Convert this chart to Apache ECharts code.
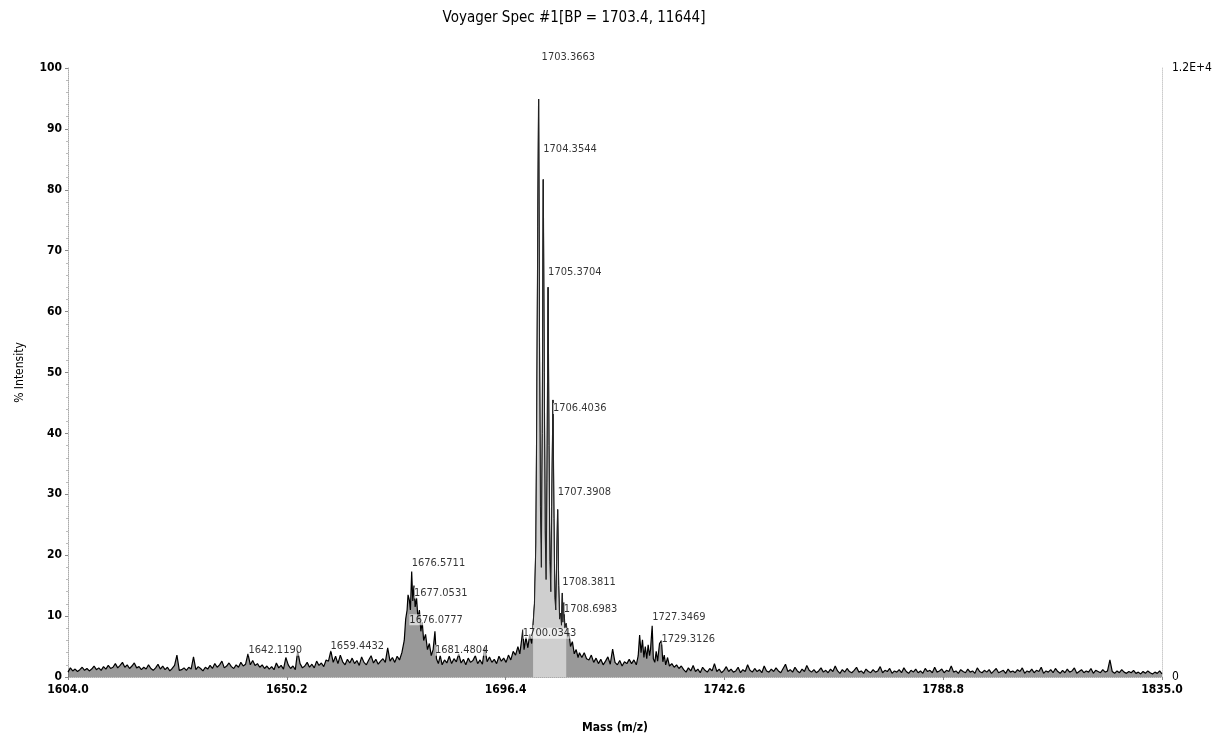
<!DOCTYPE html>
<html>
<head>
<meta charset="utf-8">
<script src="https://cdn.jsdelivr.net/npm/echarts@6/dist/echarts.min.js"></script>
<style>
html,body{margin:0;padding:0;background:#fff;}
#chart{width:1221px;height:739px;}
</style>
</head>
<body>
<div id="chart"></div>
<script>
// ---------- DATA ----------
const titleText = 'Voyager Spec #1[BP = 1703.4, 11644]';
const xTicks = [1604.0, 1650.2, 1696.4, 1742.6, 1788.8, 1835.0];
const rightTopLabel = '1.2E+4';

// baseline noise (% intensity), read every 0.5 Da starting at 1604.0
const noiseStart = 1604.0;
const noiseStep = 0.5;
const noise = [
  0.8,1.5,1.0,1.3,0.9,1.2,1.6,1.1,1.4,1.0,1.3,1.8,1.2,1.5,1.1,1.7,1.3,1.9,1.4,1.6,
  2.2,1.5,1.9,2.4,1.6,2.0,1.4,1.8,2.3,1.5,1.7,1.2,1.6,1.3,2.0,1.4,1.1,1.5,2.1,1.3,
  1.8,1.2,1.6,1.0,1.4,1.9,3.6,1.1,1.2,1.5,1.1,1.6,1.3,3.3,1.2,1.7,1.4,1.0,1.6,1.3,
  1.9,1.4,2.2,1.6,2.0,2.6,1.5,1.8,2.3,1.7,1.4,2.0,1.6,2.4,1.8,2.1,3.8,2.0,2.7,1.9,
  2.2,1.6,2.0,1.4,1.8,1.3,1.7,1.2,2.3,1.5,1.9,1.3,3.2,2.0,1.4,1.8,1.2,4.3,2.2,1.5,
  1.8,2.4,1.6,2.1,1.5,2.6,1.9,2.3,1.7,2.8,2.6,4.3,2.4,3.4,2.2,3.6,2.5,2.0,2.9,2.3,
  3.1,2.2,2.7,1.9,3.3,2.4,2.0,2.8,3.5,2.3,2.9,2.1,2.6,3.0,2.4,4.8,2.2,2.9,2.4,3.2,
  8.0,10.0,12.0,11.0,14.0,12.0,10.0,9.0,8.0,7.0,6.0,5.0,5.0,4.0,4.0,3.5,3.5,3.0,3.0,3.0,
  2.6,3.4,2.2,3.0,2.5,3.8,2.3,2.9,2.0,3.1,2.4,2.7,3.5,2.2,2.8,2.1,4.9,2.5,3.3,2.4,
  2.9,2.2,3.4,2.6,3.1,2.4,3.6,2.8,4.2,3.3,4.5,3.8,5.0,6.0,8.0,12.0,20.0,40.0,90.0,60.0,
  80.0,50.0,60.0,40.0,30.0,40.0,20.0,25.0,12.0,10.0,8.0,7.0,6.0,5.0,4.5,4.0,3.8,3.2,4.0,3.0,
  2.8,3.6,2.4,3.1,2.2,2.9,2.0,2.6,3.3,2.1,4.6,2.4,2.0,2.7,1.8,2.5,2.2,2.9,2.1,2.6,
  3.0,4.0,6.0,5.0,7.0,5.0,8.0,6.0,9.0,5.0,6.0,4.0,5.0,3.0,4.0,2.2,1.6,2.0,1.4,1.8,
  1.2,0.8,1.5,1.0,1.9,0.9,1.3,0.7,1.6,1.1,0.8,1.4,1.0,2.2,0.9,1.3,0.7,1.1,1.7,0.9,
  1.3,0.8,1.0,1.6,0.7,1.2,0.9,2.0,1.1,0.8,1.4,0.9,1.2,0.7,1.8,1.0,0.8,1.3,0.9,1.5,
  1.0,0.7,1.4,2.1,0.9,1.2,0.8,1.6,1.0,0.7,1.3,0.9,1.9,1.1,0.8,1.2,0.7,1.0,1.5,0.8,
  1.1,0.7,1.3,0.9,1.8,1.0,0.6,1.2,0.8,1.4,0.9,0.7,1.1,1.6,0.8,1.0,0.6,1.3,0.9,0.7,
  1.2,0.8,1.0,1.7,0.7,1.1,0.9,1.4,0.6,1.0,0.8,1.2,0.7,1.5,0.9,0.6,1.1,0.8,1.3,0.7,
  1.0,0.6,1.4,0.9,1.1,0.7,1.6,0.8,1.0,1.3,0.7,1.1,0.9,1.8,0.8,1.0,0.6,1.2,0.9,0.7,
  1.3,0.8,1.0,0.6,1.5,0.9,0.7,1.1,0.8,1.2,0.6,1.0,1.4,0.7,0.9,1.1,0.6,1.3,0.8,1.0,
  0.7,1.2,0.9,1.5,0.6,1.0,0.8,1.3,0.7,1.1,0.9,1.6,0.6,1.0,0.8,1.2,0.7,1.4,0.9,0.6,
  1.1,0.7,1.3,0.8,1.0,1.5,0.6,0.9,1.2,0.7,1.0,0.8,1.4,0.6,1.1,0.9,0.7,1.2,0.8,1.0,
  2.8,0.9,0.6,1.0,0.7,1.2,0.8,0.6,0.9,0.7,1.1,0.6,0.8,0.5,0.9,0.6,1.0,0.7,0.5,0.8,
  0.6,1.0,0.5
];

// detailed segments around the peak groups
const seg1676Mass = [1672.0,1672.5,1673.0,1673.5,1674.0,1674.5,1675.0,1675.3,1675.6,1675.8,1676.08,1676.3,1676.57,1676.8,1677.05,1677.3,1677.6,1677.9,1678.2,1678.5,1678.8,1679.1,1679.5,1679.9,1680.3,1680.7,1681.1,1681.48,1681.8,1682.2,1682.6,1683.0,1683.5,1684.0];
const seg1676Int  = [2.6,3.2,2.4,3.4,2.8,4.0,6.0,9.5,11.0,13.5,12.6,11.0,17.3,12.5,15.0,11.5,13.0,9.5,11.0,7.5,9.0,6.0,7.0,4.5,5.5,3.5,4.5,7.5,3.0,2.2,3.5,2.0,2.8,2.3];

const seg1703Mass = [1698.5,1699.0,1699.4,1699.8,1700.03,1700.3,1700.7,1701.1,1701.5,1701.9,1702.2,1702.5,1702.8,1703.0,1703.2,1703.37,1703.55,1703.75,1703.95,1704.15,1704.35,1704.55,1704.75,1704.95,1705.15,1705.37,1705.55,1705.75,1705.95,1706.15,1706.4,1706.6,1706.8,1707.0,1707.2,1707.39,1707.6,1707.8,1708.0,1708.2,1708.38,1708.5,1708.7,1708.9,1709.2,1709.5,1709.8,1710.1,1710.5,1710.9,1711.3,1711.7,1712.0];
const seg1703Int  = [3.6,5.0,3.8,6.2,7.8,4.5,6.5,4.8,7.0,5.5,8.5,12.0,22.0,45.0,74.0,94.9,55.0,28.0,18.0,40.0,81.7,50.0,24.0,16.0,32.0,64.0,38.0,19.0,14.0,28.0,45.5,26.0,13.0,11.0,19.0,27.5,15.0,9.5,10.5,8.5,13.8,9.0,12.2,8.0,8.8,6.5,7.2,5.0,5.8,3.8,4.5,3.2,4.0];

const seg1727Mass = [1723.0,1723.5,1724.0,1724.4,1724.7,1725.0,1725.3,1725.6,1725.9,1726.2,1726.5,1726.8,1727.0,1727.35,1727.6,1727.9,1728.2,1728.5,1728.9,1729.31,1729.6,1729.9,1730.2,1730.6,1731.0];
const seg1727Int  = [2.2,2.8,2.0,3.5,6.9,4.0,6.1,3.2,5.0,3.0,5.3,3.5,4.5,8.4,3.0,2.4,4.2,2.6,5.5,6.0,2.5,3.6,2.0,3.2,1.8];

// peak annotations
const labelText  = ['1703.3663','1704.3544','1705.3704','1706.4036','1707.3908','1708.3811','1708.6983','1700.0343','1727.3469','1729.3126','1676.5711','1677.0531','1676.0777','1681.4804','1642.1190','1659.4432'];
const labelLevel = [101.8,86.7,66.4,44.1,30.3,15.5,11.2,7.2,9.9,6.25,18.75,13.8,9.4,4.4,4.4,5.1];
const labelShift = [3,0,0,0,0,0,0,0,0,0,0,0,0,0,0,0];

// ---------- BUILD ----------
const segments = [[seg1676Mass,seg1676Int],[seg1703Mass,seg1703Int],[seg1727Mass,seg1727Int]];
const pts = [];
noise.forEach((v,i)=>{
  const m = noiseStart + i*noiseStep;
  const inside = segments.some(s => m >= s[0][0] && m <= s[0][s[0].length-1]);
  if(!inside) pts.push([m, v]);
});
segments.forEach(s => s[0].forEach((m,i)=>pts.push([m, s[1][i]])));
pts.sort((a,b)=>a[0]-b[0]);
// isotope envelope (shaded in the original)
const clusterPts = seg1703Mass.map((m,i)=>[m, seg1703Int[i]]).filter(p=>p[0]>=1702.2 && p[0]<=1709.2);

const labelData = labelText.map((t,i)=>({
  value:[parseFloat(t), labelLevel[i]],
  label:{offset:[labelShift[i],0]}
}));

const FONT = "'Liberation Sans Narrow','DejaVu Sans Condensed','Arial Narrow',sans-serif";

const chart = echarts.init(document.getElementById('chart'), null, {renderer:'canvas'});
chart.setOption({
  animation:false,
  backgroundColor:'#fff',
  title:{
    text:titleText, left:569, top:6, textAlign:'center',
    textStyle:{fontFamily:FONT, fontSize:15, fontWeight:'normal', color:'#000'}
  },
  grid:{left:68, right:59, top:68, bottom:62, containLabel:false},
  xAxis:{
    type:'value', min:xTicks[0], max:xTicks[xTicks.length-1], interval:46.2,
    name:'Mass (m/z)', nameLocation:'middle', nameGap:45,
    nameTextStyle:{fontFamily:FONT, fontSize:12, fontWeight:'bold', color:'#000'},
    axisLine:{show:true, onZero:false, lineStyle:{color:'#aaa', type:'dotted', width:1}},
    axisTick:{show:true, length:3, lineStyle:{color:'#888'}},
    axisLabel:{fontFamily:FONT, fontSize:12, fontWeight:'bold', color:'#000', margin:7,
      formatter:v=>v.toFixed(1)},
    splitLine:{show:false}
  },
  yAxis:[{
    type:'value', min:0, max:100, interval:10,
    name:'% Intensity', nameLocation:'middle', nameGap:42, nameRotate:90,
    nameTextStyle:{fontFamily:FONT, fontSize:12, color:'#000'},
    axisLine:{show:true, lineStyle:{color:'#aaa', type:'dotted', width:1}},
    axisTick:{show:true, length:3, lineStyle:{color:'#888'}},
    minorTick:{show:true, splitNumber:5, length:2, lineStyle:{color:'#bbb'}},
    axisLabel:{fontFamily:FONT, fontSize:12, fontWeight:'bold', color:'#000', margin:6},
    splitLine:{show:false}
  },{
    type:'value', min:0, max:100, interval:100, position:'right',
    axisLine:{show:true, lineStyle:{color:'#ccc', type:'dotted', width:1}},
    axisTick:{show:false},
    axisLabel:{fontFamily:FONT, fontSize:12, color:'#000', margin:10,
      formatter:v=> v===100 ? rightTopLabel : '0'},
    splitLine:{show:false}
  }],
  series:[{
    type:'line', data:pts, yAxisIndex:0, showSymbol:false, symbol:'none',
    sampling:null, smooth:false,
    lineStyle:{color:'#000', width:1.2},
    areaStyle:{color:'#333', opacity:0.5},
    z:2
  },{
    type:'line', data:clusterPts, yAxisIndex:0, showSymbol:false, symbol:'none',
    smooth:false,
    lineStyle:{color:'#222', width:1},
    areaStyle:{color:'#cfcfcf', opacity:1},
    z:3
  },{
    type:'scatter', data:labelData, symbolSize:0, clip:false, silent:true,
    label:{show:true, position:'right', distance:0, fontFamily:FONT, fontSize:11, color:'#000',
      backgroundColor:'rgba(255,255,255,0.75)',
      formatter:p=>labelText[p.dataIndex]},
    z:5
  }]
});
</script>
</body>
</html>
